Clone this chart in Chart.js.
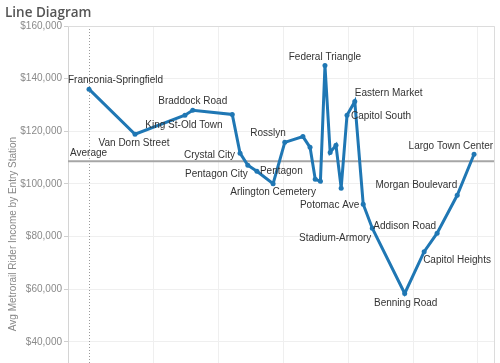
<!DOCTYPE html>
<html>
<head>
<meta charset="utf-8">
<script src="https://cdn.jsdelivr.net/npm/chart.js@4"></script>
<style>
  html, body { margin: 0; background: #fff; overflow: hidden; }
  canvas { display: block; }
</style>
</head>
<body>
<!-- a few px taller than the window so the plot runs off the bottom like the original -->
<canvas id="lineChart" width="500" height="367"></canvas>
<script>
// stations along the line, in order
const stations = [
  'Franconia-Springfield', 'Van Dorn Street', 'King St-Old Town', 'Braddock Road',
  'Ronald Reagan Washington National Airport', 'Crystal City', 'Pentagon City', 'Pentagon',
  'Arlington Cemetery', 'Rosslyn', 'Foggy Bottom-GWU', 'Farragut West', 'McPherson Square',
  'Metro Center', 'Federal Triangle', 'Smithsonian', "L'Enfant Plaza", 'Federal Center SW',
  'Capitol South', 'Eastern Market', 'Potomac Ave', 'Stadium-Armory', 'Benning Road',
  'Capitol Heights', 'Addison Road', 'Morgan Boulevard', 'Largo Town Center'
];

// horizontal position of each station (axis units, ticks hidden)
const stationPos = [
  0.00, 0.71, 1.48, 1.60, 2.21, 2.33, 2.45, 2.59, 2.84, 3.02, 3.30, 3.41, 3.49,
  3.57, 3.64, 3.72, 3.81, 3.89, 3.98, 4.10, 4.23, 4.37, 4.87, 5.17, 5.37, 5.68, 5.94
];

// avg rider income by entry station
const incomeValues = [
  136000, 118900, 126100, 128000, 126400, 111700, 107100, 104800, 100100, 115800,
  118000, 113900, 101800, 101000, 145000, 112000, 114700, 98400, 126100, 131300,
  92300, 83200, 58400, 74300, 81300, 95700, 111300
];

const averageIncome = 108600;

const yTicks = [40000, 60000, 80000, 100000, 120000, 140000, 160000];

// which stations get a text label, and where it sits relative to the point
const labelPlace = {
  'Franconia-Springfield': ['left', -21, -9],
  'Van Dorn Street': ['center', -1, 9],
  'King St-Old Town': ['center', -1, 10],
  'Braddock Road': ['center', 0, -9],
  'Crystal City': ['right', -5, 2],
  'Pentagon City': ['right', 0, 9],
  'Pentagon': ['left', 3, 0],
  'Arlington Cemetery': ['center', 0, 9],
  'Rosslyn': ['right', 1, -9],
  'Federal Triangle': ['center', 0, -8],
  'Capitol South': ['left', 4, 1],
  'Eastern Market': ['left', 0, -8],
  'Potomac Ave': ['right', -4, 1],
  'Stadium-Armory': ['right', -1, 10],
  'Benning Road': ['center', 1, 10],
  'Capitol Heights': ['left', -1, 9],
  'Addison Road': ['right', -1, -7],
  'Morgan Boulevard': ['right', 0, -10],
  'Largo Town Center': ['right', 19, -8]
};

const lineBlue = '#1f77b4';

const extras = {
  id: 'extras',
  beforeDatasetsDraw(chart) {
    const { ctx, chartArea: a, scales } = chart;
    ctx.save();
    // dotted reference line at the first station
    const x0 = scales.x.getPixelForValue(0);
    ctx.strokeStyle = '#9a9a9a';
    ctx.lineWidth = 1;
    ctx.setLineDash([1, 2]);
    ctx.beginPath();
    ctx.moveTo(Math.round(x0) + 0.5, a.top);
    ctx.lineTo(Math.round(x0) + 0.5, a.bottom);
    ctx.stroke();
    ctx.setLineDash([]);
    // average line
    const ya = scales.y.getPixelForValue(averageIncome);
    ctx.strokeStyle = '#a6a6a6';
    ctx.lineWidth = 2;
    ctx.beginPath();
    ctx.moveTo(a.left, ya);
    ctx.lineTo(a.right, ya);
    ctx.stroke();
    // frame top / right
    ctx.strokeStyle = '#dcdcdc';
    ctx.lineWidth = 1;
    ctx.beginPath();
    ctx.moveTo(a.left, a.top + 0.5);
    ctx.lineTo(a.right - 0.5, a.top + 0.5);
    ctx.lineTo(a.right - 0.5, a.bottom);
    ctx.stroke();
    ctx.restore();
  },
  afterDatasetsDraw(chart) {
    const { ctx, chartArea: a, scales } = chart;
    const meta = chart.getDatasetMeta(0);
    ctx.save();
    ctx.font = '10px "Liberation Sans", Arial, sans-serif';
    ctx.fillStyle = '#333';
    ctx.textBaseline = 'middle';
    stations.forEach((name, i) => {
      const p = labelPlace[name];
      if (!p) return;
      const pt = meta.data[i];
      ctx.textAlign = p[0];
      ctx.fillText(name, pt.x + p[1], pt.y + p[2]);
    });
    const ya = scales.y.getPixelForValue(averageIncome);
    ctx.textAlign = 'left';
    ctx.fillText('Average', a.left + 2, ya - 8);

    // title
    ctx.font = '600 13.5px "Open Sans", sans-serif';
    ctx.fillStyle = '#555';
    ctx.textBaseline = 'alphabetic';
    ctx.fillText('Line Diagram', 5, 17);

    // y axis title
    ctx.translate(13, 234);
    ctx.rotate(-Math.PI / 2);
    ctx.font = '10px "Liberation Sans", Arial, sans-serif';
    ctx.fillStyle = '#888';
    ctx.textAlign = 'center';
    ctx.textBaseline = 'middle';
    ctx.fillText('Avg Metrorail Rider Income by Entry Station', 0, 0);
    ctx.restore();
  }
};

new Chart(document.getElementById('lineChart'), {
  type: 'line',
  data: {
    datasets: [{
      label: 'Avg Metrorail Rider Income',
      data: stationPos.map((x, i) => ({ x: x, y: incomeValues[i] })),
      borderColor: lineBlue,
      backgroundColor: lineBlue,
      borderWidth: 3,
      pointRadius: 2.5,
      pointBorderWidth: 0,
      tension: 0
    }]
  },
  options: {
    responsive: false,
    animation: false,
    devicePixelRatio: 1,
    layout: { padding: { top: 26, right: 5, left: 0, bottom: 0 } },
    plugins: {
      legend: { display: false },
      tooltip: { enabled: false }
    },
    scales: {
      x: {
        type: 'linear',
        min: -0.324,
        max: 6.263,
        afterFit: s => { s.height = 0; s.paddingLeft = 0; s.paddingRight = 0; },
        ticks: { display: false, stepSize: 1, includeBounds: false },
        grid: {
          drawTicks: false,
          color: c => (c.tick && c.tick.value === 0) ? 'rgba(0,0,0,0)' : '#efefef'
        },
        border: { display: false }
      },
      y: {
        min: 32000,
        max: 160000,
        afterFit: s => { s.width = 68; s.paddingTop = 0; s.paddingBottom = 0; },
        afterBuildTicks: s => { s.ticks = yTicks.map(v => ({ value: v })); },
        ticks: {
          padding: 2,
          color: '#8a8a8a',
          font: { family: '"Liberation Sans", Arial, sans-serif', size: 10 },
          callback: v => '$' + v.toLocaleString('en-US')
        },
        grid: { color: '#efefef', tickColor: '#cfcfcf', tickLength: 4 },
        border: { display: true, color: '#d4d4d4' }
      }
    }
  },
  plugins: [extras]
});
</script>
</body>
</html>
